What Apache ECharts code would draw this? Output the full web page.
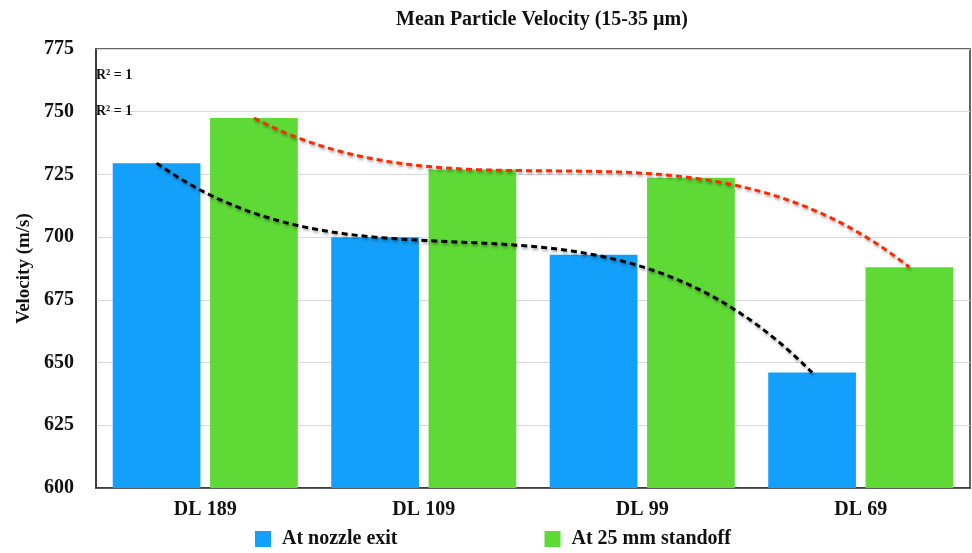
<!DOCTYPE html>
<html>
<head>
<meta charset="utf-8">
<script src="https://cdn.jsdelivr.net/npm/echarts@6/dist/echarts.min.js"></script>
<style>html,body{margin:0;padding:0;background:#fff;}#c{width:972px;height:553px;}</style>
</head>
<body>
<div id="c"></div>
<script>
var categories = ['DL 189', 'DL 109', 'DL 99', 'DL 69'];
var nozzleExit = [729.5, 700, 693, 646];
var standoff25 = [747.5, 727, 723.7, 688];
var seriesNames = ['At nozzle exit', 'At 25 mm standoff'];
var yTicks = [600, 625, 650, 675, 700, 725, 750, 775];
var rSquaredLabels = ['R\u00b2 = 1', 'R\u00b2 = 1'];

var FONT = '"Liberation Serif", "Times New Roman", serif';
var BLUE = '#12A0FA', GREEN = '#5ED936';
var CAT_GAP = 0.153, BAR_GAP = 0.11;

function lagrange(vals, t) {
  var n = vals.length, s = 0;
  for (var i = 0; i < n; i++) {
    var term = vals[i];
    for (var j = 0; j < n; j++) if (j !== i) term *= (t - j) / (i - j);
    s += term;
  }
  return s;
}

function trendRenderer(vals, side, color) {
  return function (params, api) {
    var band = api.size([1, 0])[0];
    var group = band * (1 - CAT_GAP);
    var barW = group / (2 + BAR_GAP);
    var off = side * (barW + barW * BAR_GAP) / 2;
    var x0 = api.coord([0, vals[0]])[0] + off;
    var pts = [];
    var steps = 120;
    for (var k = 0; k <= steps; k++) {
      var t = (vals.length - 1) * k / steps;
      var y = api.coord([0, lagrange(vals, t)])[1];
      pts.push([x0 + t * band, y]);
    }
    return {
      type: 'polyline',
      shape: { points: pts },
      style: {
        stroke: color, fill: null, lineWidth: 3, lineDash: [6, 4],
        shadowColor: 'rgba(0,0,0,0.35)', shadowBlur: 3, shadowOffsetX: 1, shadowOffsetY: 2
      },
      z2: 10
    };
  };
}

var chart = echarts.init(document.getElementById('c'));
chart.setOption({
  backgroundColor: '#fff',
  animation: false,
  title: {
    text: 'Mean Particle Velocity (15-35 \u00b5m)',
    left: 391, top: 5,
    textStyle: { fontFamily: FONT, fontSize: 20, fontWeight: 'bold', color: '#111' }
  },
  grid: {
    left: 96, right: 2, top: 49, bottom: 65,
    show: true, borderColor: '#333', borderWidth: 1.5, backgroundColor: 'transparent'
  },
  legend: {
    left: 250, top: 524,
    itemWidth: 16, itemHeight: 16, itemGap: 147, icon: 'rect',
    data: seriesNames,
    textStyle: { fontFamily: FONT, fontSize: 20, fontWeight: 'bold', color: '#111', padding: [0, 0, 0, 6] }
  },
  xAxis: {
    type: 'category', data: categories,
    axisLine: { show: true, lineStyle: { color: '#333', width: 1.5 } },
    axisTick: { show: false },
    axisLabel: { margin: 12, fontFamily: FONT, fontSize: 20, fontWeight: 'bold', color: '#111' }
  },
  yAxis: {
    type: 'value', min: yTicks[0], max: yTicks[yTicks.length - 1], interval: 25,
    name: 'Velocity (m/s)', nameLocation: 'middle', nameGap: 62,
    nameTextStyle: { fontFamily: FONT, fontSize: 19, fontWeight: 'bold', color: '#111' },
    axisLine: { show: true, lineStyle: { color: '#333', width: 1.5 } },
    axisTick: { show: false },
    splitLine: { lineStyle: { color: '#d9d9d9', width: 1 } },
    axisLabel: { margin: 22, fontFamily: FONT, fontSize: 20, fontWeight: 'bold', color: '#111' }
  },
  graphic: [
    { type: 'text', left: 96, top: 68, z: 100, style: { text: rSquaredLabels[0], font: 'bold 14px ' + FONT, fill: '#111' } },
    { type: 'text', left: 96, top: 104, z: 100, style: { text: rSquaredLabels[1], font: 'bold 14px ' + FONT, fill: '#111' } }
  ],
  series: [
    { name: seriesNames[0], type: 'bar', data: nozzleExit, barGap: (BAR_GAP * 100) + '%', barCategoryGap: (CAT_GAP * 100) + '%', itemStyle: { color: BLUE } },
    { name: seriesNames[1], type: 'bar', data: standoff25, itemStyle: { color: GREEN } },
    { type: 'custom', data: [0], renderItem: trendRenderer(nozzleExit, -1, '#000'), z: 5, silent: true, clip: false },
    { type: 'custom', data: [0], renderItem: trendRenderer(standoff25, 1, '#FF2A00'), z: 5, silent: true, clip: false }
  ]
});
</script>
</body>
</html>
